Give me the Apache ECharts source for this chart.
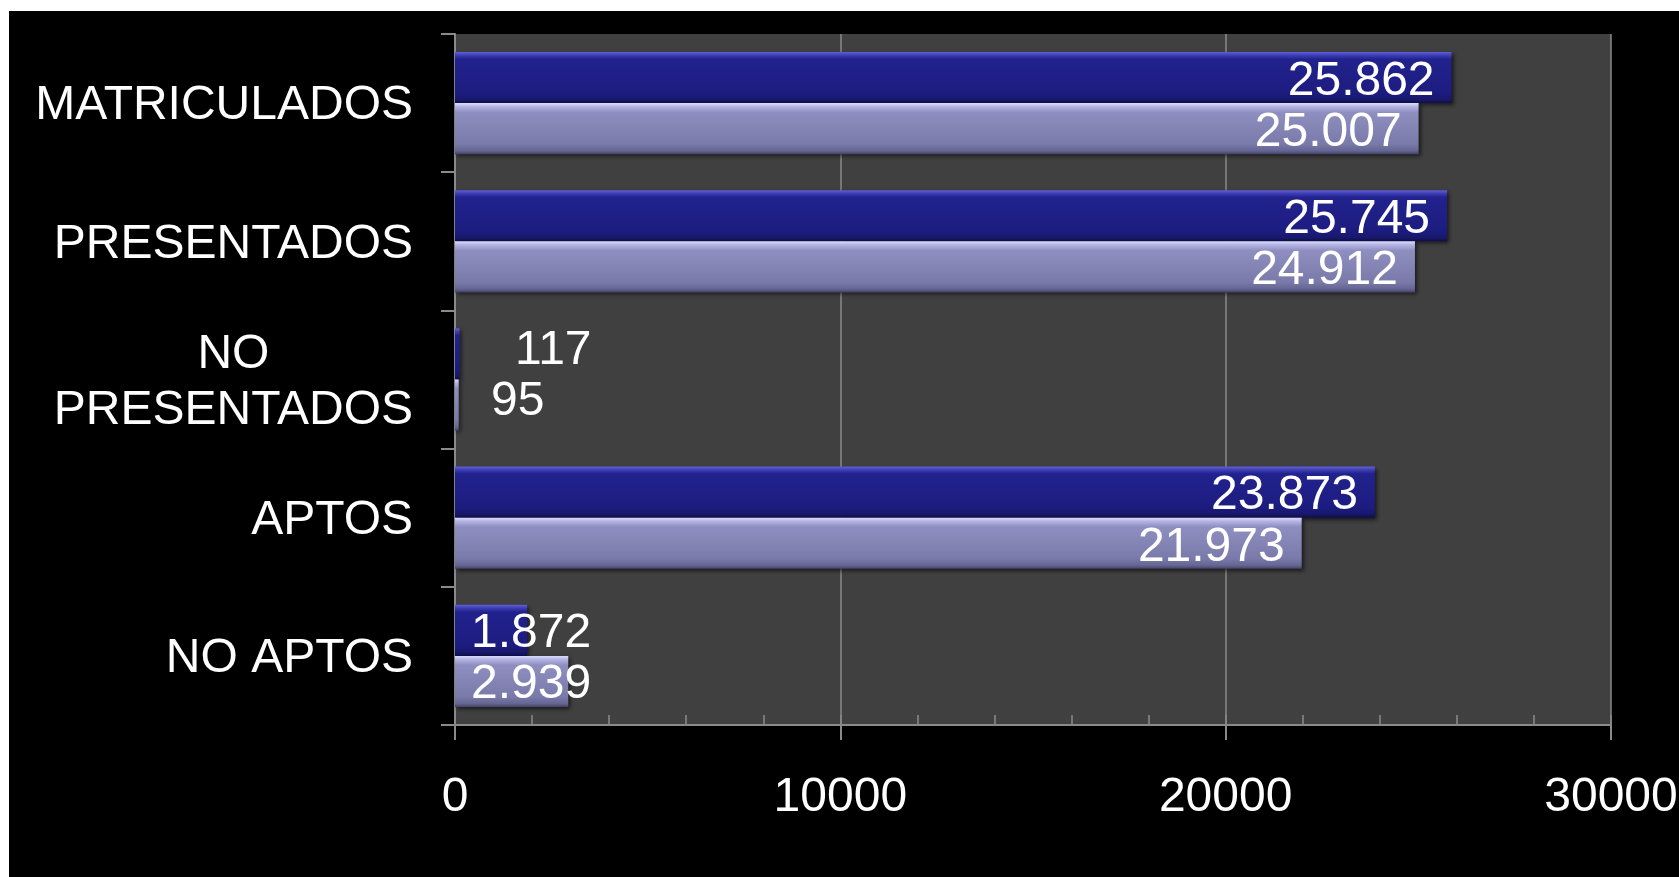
<!DOCTYPE html>
<html>
<head>
<meta charset="utf-8">
<script src="https://cdn.jsdelivr.net/npm/echarts@6/dist/echarts.min.js"></script>
<style>
  html, body { margin: 0; padding: 0; background: #ffffff; width: 1679px; height: 877px; overflow: hidden; }
  #chart { position: absolute; left: 9px; top: 11px; width: 1670px; height: 866px; background: #000000; }
</style>
</head>
<body>
<div id="chart"></div>
<script>
// ---- data ----
const categories = ['MATRICULADOS', 'PRESENTADOS', 'NO PRESENTADOS', 'APTOS', 'NO APTOS'];
const seriesANames = 'Serie 1';
const seriesBNames = 'Serie 2';
const seriesA = [25862, 25745, 117, 23873, 1872];
const seriesB = [25007, 24912, 95, 21973, 2939];
const xTicks = [0, 10000, 20000, 30000];

// ---- styling helpers ----
const FONT = "'Liberation Sans', Arial, sans-serif";
const FS = 48;
const wrapped = { 'NO PRESENTADOS': ['NO', 'PRESENTADOS'] };
// label placement for bars too short to hold their label (index -> inset per series, vertical shift)
const shortInset = { 2: { d: [60, 36], dy: -3 }, 4: { d: [16, 16], dy: 3 } };

function fmt(v) {
  return String(v).replace(/\B(?=(\d{3})+(?!\d))/g, '.');
}

function grad(stops) {
  return new echarts.graphic.LinearGradient(0, 0, 0, 1, stops.map(c => ({ offset: c[0], color: c[1] })));
}

const darkFill = grad([[0, '#6060d8'], [0.06, '#4040b8'], [0.14, '#22228e'], [0.8, '#1c1c80'], [0.93, '#18186c'], [1, '#0e0e48']]);
const lightFill = grad([[0, '#dcdcff'], [0.07, '#b4b4e4'], [0.18, '#8e8ec0'], [0.8, '#7a7aaa'], [0.93, '#666694'], [1, '#424266']]);

function buildData(values, which) {
  return values.map((v, i) => {
    const item = { value: v };
    const s = shortInset[i];
    if (s) {
      item.label = { position: 'insideLeft', distance: s.d[which], offset: [0, s.dy] };
    }
    return item;
  });
}

const labelCommon = {
  show: true,
  position: 'insideRight',
  distance: 17,
  offset: [0, 4],
  color: '#ffffff',
  fontFamily: FONT,
  fontSize: FS,
  formatter: p => fmt(p.value)
};

const barCommon = {
  type: 'bar',
  barGap: '0%',
  barCategoryGap: '26%',
  label: labelCommon,
  z: 3
};

const chart = echarts.init(document.getElementById('chart'), null, { renderer: 'canvas' });
chart.setOption({
  backgroundColor: '#000000',
  animation: false,
  grid: {
    left: 446, top: 23, right: 68, bottom: 152,
    outerBoundsMode: 'none',
    containLabel: false,
    show: true, backgroundColor: '#404040', borderWidth: 0
  },
  xAxis: [
    {
      type: 'value',
      min: xTicks[0], max: xTicks[xTicks.length - 1], interval: 10000,
      position: 'bottom',
      axisLine: { show: true, lineStyle: { color: '#8a8a8a', width: 2 } },
      axisTick: { show: true, length: 15, lineStyle: { color: '#8a8a8a', width: 2 } },
      splitLine: { show: true, lineStyle: { color: '#8a8a8a', width: 1.5 } },
      axisLabel: { color: '#ffffff', fontFamily: FONT, fontSize: FS, margin: 49, formatter: v => String(v) }
    },
    {
      type: 'value',
      min: xTicks[0], max: xTicks[xTicks.length - 1], interval: 2000,
      position: 'bottom',
      axisLine: { show: false },
      axisTick: { show: true, inside: true, length: 10, lineStyle: { color: '#8a8a8a', width: 1.5 } },
      splitLine: { show: false },
      axisLabel: { show: false }
    }
  ],
  yAxis: {
    type: 'category',
    inverse: true,
    data: categories,
    axisLine: { show: true, lineStyle: { color: '#8a8a8a', width: 2 } },
    axisTick: { show: true, length: 14, lineStyle: { color: '#8a8a8a', width: 2 } },
    axisLabel: {
      color: '#ffffff', fontFamily: FONT, fontSize: FS, margin: 42, lineHeight: 56,
      padding: [6, 0, 0, 0],
      formatter: v => wrapped[v] ? wrapped[v].map(s => '{c|' + s + '}').join('\n') : '{c|' + v + '}',
      rich: { c: { align: 'center', color: '#ffffff', fontFamily: FONT, fontSize: FS, lineHeight: 56 } }
    }
  },
  series: [
    Object.assign({}, barCommon, {
      name: seriesANames,
      data: buildData(seriesA, 0),
      itemStyle: { color: darkFill, shadowColor: 'rgba(0,0,0,0.6)', shadowBlur: 4, shadowOffsetX: 2, shadowOffsetY: 2 }
    }),
    Object.assign({}, barCommon, {
      name: seriesBNames,
      data: buildData(seriesB, 1),
      itemStyle: { color: lightFill, shadowColor: 'rgba(0,0,0,0.6)', shadowBlur: 4, shadowOffsetX: 2, shadowOffsetY: 2 }
    })
  ]
});
</script>
</body>
</html>
